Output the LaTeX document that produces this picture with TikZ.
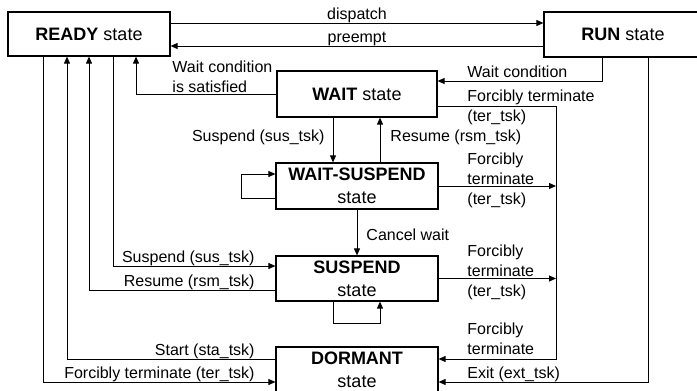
\documentclass[tikz,border=0pt]{standalone}
\usepackage{fontspec}
\setmainfont{Liberation Sans}
\usetikzlibrary{arrows.meta}

\begin{document}
\begin{tikzpicture}[x=1pt, y=-1pt, line width=0.9pt,
    box/.style={draw, line width=1.2pt, inner sep=0pt, align=center, minimum width=162pt, minimum height=45pt, font=\fontsize{18}{23}\selectfont},
    lbl/.style={inner sep=0pt, align=left, font=\fontsize{16}{20}\selectfont},
    arr/.style={-{Triangle[length=7pt, width=6pt]}}]
  \path[use as bounding box, clip] (0,0) rectangle (697,391);
  % states
  \node[box, minimum height=44pt] (ready) at (89,34) {\textbf{READY} state};
  \node[box, minimum width=158pt] (run) at (623,34.5) {\textbf{RUN} state};
  \node[box, minimum width=160pt, minimum height=46pt] (wait) at (357,94) {\textbf{WAIT} state};
  \node[box, minimum height=46pt] (waitsus) at (357,186) {\textbf{WAIT-SUSPEND}\\state};
  \node[box] (susp) at (357,278.5) {\textbf{SUSPEND}\\state};
  \node[box, minimum height=46pt] (dorm) at (357,370) {\textbf{DORMANT}\\state};
  % bends
  \coordinate (dsp) at (357,23); \coordinate (pre) at (357,46);
  \coordinate (rA) at (602,81); \coordinate (rB) at (648,382);
  \coordinate (tA) at (556,106); \coordinate (tB) at (556,359);
  \coordinate (wS) at (136,94);
  \coordinate (sA) at (113,266); \coordinate (sB) at (89,290);
  \coordinate (sC) at (67,359); \coordinate (sD) at (43,382);
  \coordinate (lA) at (241,198); \coordinate (lB) at (241,174);
  \coordinate (lC) at (333,323); \coordinate (lD) at (380,323);
  % transitions
  \draw[arr] (ready.east |- dsp) -- (run.west |- dsp);
  \draw[arr] (run.west |- pre) -- (ready.east |- pre);
  \draw[arr] (run.south -| rA) |- (wait.east |- rA);
  \draw[arr] (run.south -| rB) |- (dorm.east |- rB);
  \draw[arr] (wait.east |- tA) -| (tB) -- (dorm.east |- tB);
  \draw[arr] (waitsus.east) -- (waitsus.east -| tA);
  \draw[arr] (susp.east) -- (susp.east -| tA);
  \draw[arr] (wait.west) -| (ready.south -| wS);
  \draw[arr] (ready.south -| sA) |- (susp.west |- sA);
  \draw[arr] (susp.west |- sB) -| (ready.south -| sB);
  \draw[arr] (dorm.west |- sC) -| (ready.south -| sC);
  \draw[arr] (ready.south -| sD) |- (dorm.west |- sD);
  \draw[arr] (wait.south -| lC) -- (waitsus.north -| lC);
  \draw[arr] (waitsus.north -| lD) -- (wait.south -| lD);
  \draw[arr] (waitsus.south) -- (susp.north);
  \draw[arr] (waitsus.west |- lA) -| (lB) -- (waitsus.west |- lB);
  \draw[arr] (susp.south -| lC) |- (lD) -- (susp.south -| lD);
  % labels (base = last line)
  \node[lbl, anchor=base] (ldsp) at (357,19) {dispatch};
  \node[lbl, anchor=base] (lpre) at (357,42) {preempt};
  \node[lbl, anchor=base west] (lwc) at (467,77) {Wait condition};
  \node[lbl, anchor=base west] (lwt) at (467,121) {Forcibly terminate\\(ter\_tsk)};
  \node[lbl, anchor=base west] (lwst) at (467,204) {Forcibly\\terminate\\(ter\_tsk)};
  \node[lbl, anchor=base west] (lst) at (467,296) {Forcibly\\terminate\\(ter\_tsk)};
  \node[lbl, anchor=base west] (ldt) at (467,354) {Forcibly\\terminate};
  \node[lbl, anchor=base west] (lext) at (467,378) {Exit (ext\_tsk)};
  \node[lbl, anchor=base west] (lsat) at (172,92) {Wait condition\\is satisfied};
  \node[lbl, anchor=base east] (lsus) at (325,141) {Suspend (sus\_tsk)};
  \node[lbl, anchor=base west] (lrsm) at (390,141) {Resume (rsm\_tsk)};
  \node[lbl, anchor=base west] (lcan) at (366,240) {Cancel wait};
  \node[lbl, anchor=base east] (lsus2) at (255,262) {Suspend (sus\_tsk)};
  \node[lbl, anchor=base east] (lrsm2) at (255,286) {Resume (rsm\_tsk)};
  \node[lbl, anchor=base east] (lsta) at (255,355) {Start (sta\_tsk)};
  \node[lbl, anchor=base east] (lter) at (255,378) {Forcibly terminate (ter\_tsk)};
\end{tikzpicture}
\end{document}
